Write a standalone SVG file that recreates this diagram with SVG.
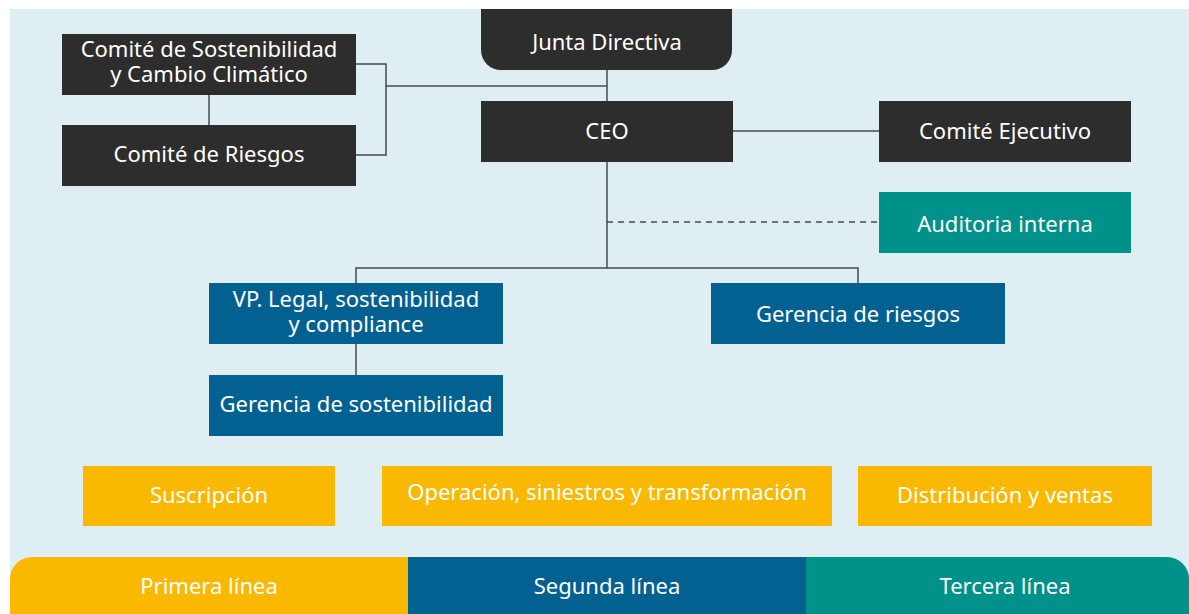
<svg xmlns="http://www.w3.org/2000/svg" width="1189" height="614" viewBox="0 0 1189 614">
<style>
.t{font-family:"Noto Sans","Liberation Sans",sans-serif;font-size:22px;fill:#ffffff;text-anchor:middle}
.dark{fill:#2d2d2d}
.blue{fill:#036192}
.teal{fill:#00918a}
.yel{fill:#fbb800}
.ln{stroke:#4a4a4a;stroke-width:1.5;fill:none}
</style>
<rect x="0" y="0" width="1189" height="614" fill="#ffffff"/>
<rect x="10" y="9" width="1179" height="605" fill="#dfeef2"/>
<g id="connectors">
<path class="ln" d="M209 95V125"/>
<path class="ln" d="M356 64H386V155H356"/>
<path class="ln" d="M386 86H607"/>
<path class="ln" d="M607 70V101"/>
<path class="ln" d="M733 131H879"/>
<path class="ln" d="M607 162V268"/>
<path class="ln" d="M607 222H879" stroke-dasharray="6 5"/>
<path class="ln" d="M356 283V268H858V283"/>
<path class="ln" d="M356 344V375"/>
</g>
<g id="comite-sostenibilidad">
<rect class="dark" x="62" y="34" width="294" height="61"/>
<text class="t" x="209" y="57"><tspan x="209" y="57">Comité de Sostenibilidad</tspan><tspan x="209" y="82">y Cambio Climático</tspan></text>
</g>
<g id="comite-riesgos">
<rect class="dark" x="62" y="125" width="294" height="61"/>
<text class="t" x="209" y="162">Comité de Riesgos</text>
</g>
<g id="junta-directiva">
<path class="dark" d="M481 9H732V50A20 20 0 0 1 712 70H501A20 20 0 0 1 481 50Z"/>
<text class="t" x="607" y="50">Junta Directiva</text>
</g>
<g id="ceo">
<rect class="dark" x="481" y="101" width="252" height="61"/>
<text class="t" x="607" y="139">CEO</text>
</g>
<g id="comite-ejecutivo">
<rect class="dark" x="879" y="101" width="252" height="61"/>
<text class="t" x="1005" y="139">Comité Ejecutivo</text>
</g>
<g id="auditoria-interna">
<rect class="teal" x="879" y="192" width="252" height="61"/>
<text class="t" x="1005" y="232">Auditoria interna</text>
</g>
<g id="vp-legal">
<rect class="blue" x="209" y="283" width="294" height="61"/>
<text class="t" x="356" y="307"><tspan x="356" y="307">VP. Legal, sostenibilidad</tspan><tspan x="356" y="332">y compliance</tspan></text>
</g>
<g id="gerencia-riesgos">
<rect class="blue" x="711" y="283" width="294" height="61"/>
<text class="t" x="858" y="322">Gerencia de riesgos</text>
</g>
<g id="gerencia-sostenibilidad">
<rect class="blue" x="209" y="375" width="294" height="61"/>
<text class="t" x="356" y="412">Gerencia de sostenibilidad</text>
</g>
<g id="suscripcion">
<rect class="yel" x="83" y="466" width="252" height="60"/>
<text class="t" x="209" y="503">Suscripción</text>
</g>
<g id="operacion">
<rect class="yel" x="382" y="466" width="450" height="60"/>
<text class="t" x="607" y="500">Operación, siniestros y transformación</text>
</g>
<g id="distribucion">
<rect class="yel" x="858" y="466" width="294" height="60"/>
<text class="t" x="1005" y="503">Distribución y ventas</text>
</g>
<g id="primera-linea">
<path class="yel" d="M10 614V579A22 22 0 0 1 32 557H408V614Z"/>
<text class="t" x="209" y="594">Primera línea</text>
</g>
<g id="segunda-linea">
<rect class="blue" x="408" y="557" width="398" height="57"/>
<text class="t" x="607" y="594">Segunda línea</text>
</g>
<g id="tercera-linea">
<path class="teal" d="M806 557H1167A22 22 0 0 1 1189 579V614H806Z"/>
<text class="t" x="1005" y="594">Tercera línea</text>
</g>
</svg>
